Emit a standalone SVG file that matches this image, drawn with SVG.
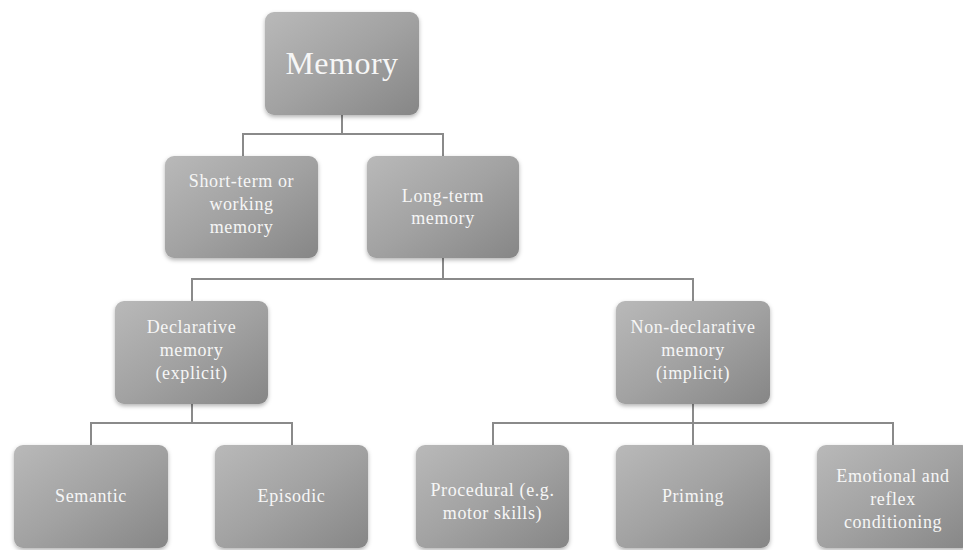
<svg xmlns="http://www.w3.org/2000/svg" width="963" height="550" viewBox="0 0 963 550">
<style>
.box{fill:url(#g);filter:url(#sh)}
.t{font-family:"Liberation Serif","DejaVu Serif",serif;fill:#f6f6f6;text-anchor:middle;font-size:18px;letter-spacing:0.6px}
.big{font-size:32px;letter-spacing:0.5px}
.c{fill:none;stroke:#8a8a8a;stroke-width:2}
</style>
<defs>
<linearGradient id="g" x1="0" y1="0" x2="1" y2="1">
<stop offset="0" stop-color="#b9b9b9"/>
<stop offset="0.5" stop-color="#a2a2a2"/>
<stop offset="1" stop-color="#868686"/>
</linearGradient>
<filter id="sh" x="-10%" y="-10%" width="120%" height="125%">
<feDropShadow dx="0" dy="2" stdDeviation="2" flood-color="#000" flood-opacity="0.3"/>
</filter>
</defs>
<g id="connectors">
<path class="c" d="M342 115V134M243 156V134H443V156"/>
<path class="c" d="M443 258V279M192 301V279H693V301"/>
<path class="c" d="M192 404V423M91 445V423H292V445"/>
<path class="c" d="M693 404V423M493 445V423H893V445M693 423V445"/>
</g>
<g id="memory"><rect class="box" x="265" y="12" width="154" height="103" rx="9"/><text class="t big" x="342" y="74">Memory</text></g>
<g id="short-term"><rect class="box" x="165" y="156" width="153" height="102" rx="9"/><text class="t" x="241.5" y="187">Short-term or</text><text class="t" x="241.5" y="210">working</text><text class="t" x="241.5" y="233">memory</text></g>
<g id="long-term"><rect class="box" x="367" y="156" width="152" height="102" rx="9"/><text class="t" x="443" y="202">Long-term</text><text class="t" x="443" y="224">memory</text></g>
<g id="declarative"><rect class="box" x="115" y="301" width="153" height="103" rx="9"/><text class="t" x="191.5" y="333">Declarative</text><text class="t" x="191.5" y="356">memory</text><text class="t" x="191.5" y="379">(explicit)</text></g>
<g id="non-declarative"><rect class="box" x="616" y="301" width="154" height="103" rx="9"/><text class="t" x="693" y="333">Non-declarative</text><text class="t" x="693" y="356">memory</text><text class="t" x="693" y="379">(implicit)</text></g>
<g id="semantic"><rect class="box" x="14" y="445" width="154" height="103" rx="9"/><text class="t" x="91" y="502">Semantic</text></g>
<g id="episodic"><rect class="box" x="215" y="445" width="153" height="103" rx="9"/><text class="t" x="291.5" y="502">Episodic</text></g>
<g id="procedural"><rect class="box" x="416" y="445" width="153" height="103" rx="9"/><text class="t" x="492.5" y="496">Procedural (e.g.</text><text class="t" x="492.5" y="519">motor skills)</text></g>
<g id="priming"><rect class="box" x="616" y="445" width="154" height="103" rx="9"/><text class="t" x="693" y="502">Priming</text></g>
<g id="emotional"><rect class="box" x="817" y="445" width="154" height="103" rx="9"/><text class="t" x="893" y="482">Emotional and</text><text class="t" x="893" y="505">reflex</text><text class="t" x="893" y="528">conditioning</text></g>
</svg>
